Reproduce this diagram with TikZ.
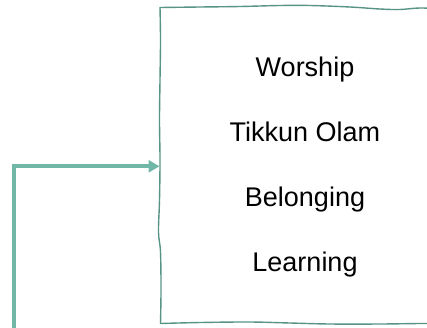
\documentclass[tikz,border=0pt]{standalone}
\usepackage{fontspec}
\setmainfont{Liberation Sans}
\usetikzlibrary{arrows.meta}
\definecolor{flowteal}{RGB}{112,183,167}
\definecolor{frameteal}{RGB}{88,148,134}
\tikzset{
  value/.style={anchor=base, font=\fontsize{27}{30}\selectfont, text=black, inner sep=0pt},
  frame/.style={draw=frameteal, line width=1.4pt, line join=round},
  flow/.style={draw=flowteal, line width=4pt, -{Triangle[length=11pt,width=12pt]}}
}
\begin{document}
\begin{tikzpicture}[x=1pt, y=-1pt]
  \useasboundingbox (0,0) rectangle (427,327);

  % hand-drawn frame, open past the right edge
  \draw[frame] plot[smooth, tension=0.6] coordinates {
      (445,9) (420,8) (400,9.5) (380,9) (350,7) (310,5.5) (280,5.5) (240,6.5) (200,7) (160,7.5)}
    -- plot[smooth, tension=0.6] coordinates {
      (160,7.5) (160.5,40) (160,80) (159.5,120) (160,160) (159.5,200) (158.5,232) (160.5,252) (161,290) (160.5,323.5)}
    -- plot[smooth, tension=0.6] coordinates {
      (160.5,323.5) (200,322.5) (250,322) (290,323) (330,324) (380,324) (420,323.5) (445,323.5)};

  % list of values
  \node[value] (worship)   at (305,76)  {Worship};
  \node[value] (tikkun)    at (305,141) {Tikkun Olam};
  \node[value] (belonging) at (305,206) {Belonging};
  \node[value] (learning)  at (305,271) {Learning};

  % incoming flow into the frame
  \coordinate (source) at (13.7,330);
  \coordinate (entry)  at (159.5,166.3);
  \draw[flow] (source) |- (entry);
\end{tikzpicture}
\end{document}
